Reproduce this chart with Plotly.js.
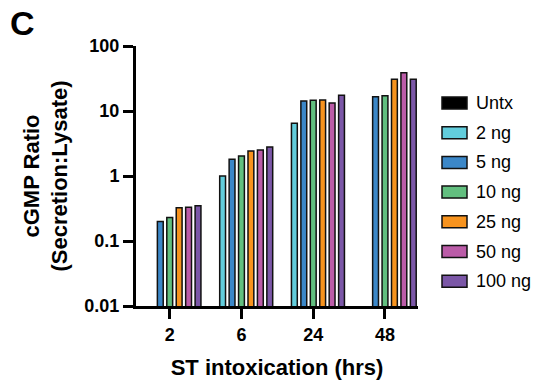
<!DOCTYPE html>
<html>
<head>
<meta charset="utf-8">
<script src="https://cdn.plot.ly/plotly-3.0.1.min.js"></script>
<style>html,body{margin:0;padding:0;background:#fff;}#chart{width:533px;height:384px;}</style>
</head>
<body>
<div id="chart"></div>
<script>
const categories = ["2", "6", "24", "48"];
const seriesNames = ["Untx", "2 ng", "5 ng", "10 ng", "25 ng", "50 ng", "100 ng"];
const untx   = [null, null, null, null];
const ng2    = [null, 1.0, 6.5, null];
const ng5    = [0.20, 1.81, 14.3, 16.6];
const ng10   = [0.23, 2.03, 14.6, 17.2];
const ng25   = [0.325, 2.42, 14.8, 30.7];
const ng50   = [0.33, 2.51, 13.3, 38.8];
const ng100  = [0.35, 2.79, 17.4, 30.7];
const seriesValues = [untx, ng2, ng5, ng10, ng25, ng50, ng100];
const colors = ["#000000", "#62CDDC", "#3B87C8", "#62BF7F", "#F7931E", "#BB5CA8", "#7B57A7"];
const yTickVals = [0.01, 0.1, 1, 10, 100];
const yTickText = ["0.01", "0.1", "1", "10", "100"];

const FONT = "Arial, 'Liberation Sans', Helvetica, sans-serif";

// plot area in pixels (used only to convert legend placement to paper coords)
const PL = 136, PR = 418, PT = 46, PB = 306;
const px2x = p => (p - PL) / (PR - PL);
const px2y = p => (PB - p) / (PB - PT);

const traces = seriesNames.map((name, i) => ({
  type: "bar",
  name: name,
  x: categories,
  y: seriesValues[i],
  marker: {color: colors[i], line: {color: "#111111", width: 1.5}},
  showlegend: false,
  hoverinfo: "skip"
}));

// custom legend: swatch + label per series
const legendTop = 103, legendStep = 29.7;
const shapes = seriesNames.map((name, i) => ({
  type: "rect", xref: "paper", yref: "paper",
  x0: px2x(442), x1: px2x(467),
  y0: px2y(legendTop + i * legendStep - 6), y1: px2y(legendTop + i * legendStep + 6),
  fillcolor: colors[i], line: {color: "#111111", width: 1.5}
}));
const annotations = seriesNames.map((name, i) => ({
  text: name, xref: "paper", yref: "paper",
  x: px2x(474), y: px2y(legendTop + i * legendStep),
  xanchor: "left", yanchor: "middle", showarrow: false,
  font: {family: FONT, size: 18, color: "#000"}
}));
annotations.push({
  text: "<b>C</b>", xref: "paper", yref: "paper",
  x: px2x(8), y: px2y(23), xanchor: "left", yanchor: "middle",
  showarrow: false, font: {family: FONT, size: 34, color: "#000"}
});

const layout = {
  width: 533,
  height: 384,
  margin: {l: PL, r: 533 - PR, t: PT, b: 384 - PB},
  paper_bgcolor: "#ffffff",
  plot_bgcolor: "#ffffff",
  barmode: "group",
  bargap: 0.08,
  bargroupgap: 0.38,
  font: {family: FONT, color: "#000000"},
  showlegend: false,
  xaxis: {
    type: "category",
    range: [-0.47, 3.46],
    showline: true, linecolor: "#000", linewidth: 3,
    ticks: "outside", ticklen: 10, tickwidth: 3, tickcolor: "#000",
    showgrid: false, zeroline: false,
    tickfont: {family: FONT, size: 18, color: "#000", weight: "bold"},
    title: {text: "<b>ST intoxication (hrs)</b>", font: {family: FONT, size: 22, color: "#000"}, standoff: 17}
  },
  yaxis: {
    type: "log",
    range: [-2, 2],
    tickvals: yTickVals,
    ticktext: yTickText,
    showline: true, linecolor: "#000", linewidth: 3,
    ticks: "outside", ticklen: 10, tickwidth: 3, tickcolor: "#000",
    showgrid: false, zeroline: false,
    tickfont: {family: FONT, size: 18, color: "#000", weight: "bold"},
    title: {text: "<b>cGMP Ratio<br>(Secretion:Lysate)</b>", font: {family: FONT, size: 22, color: "#000"}, standoff: 11}
  },
  shapes: shapes,
  annotations: annotations
};

Plotly.newPlot("chart", traces, layout, {displayModeBar: false, staticPlot: true});
</script>
</body>
</html>
